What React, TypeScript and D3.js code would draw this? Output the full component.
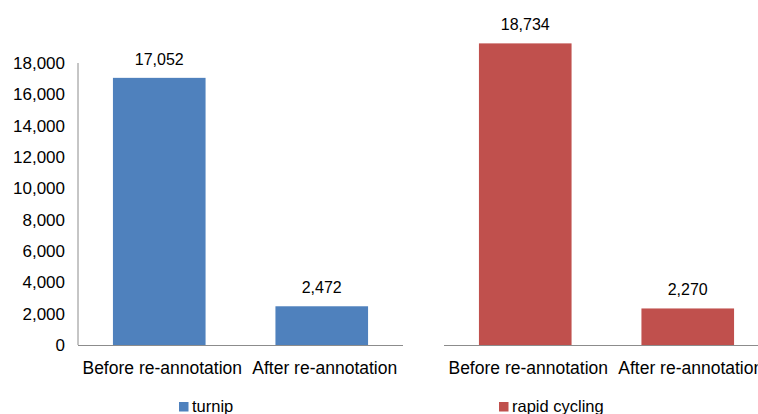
import React from "react";
import * as d3 from "d3";

const categories = ["Before re-annotation", "After re-annotation"];
const turnipValues = [17052, 2472];
const rapidValues = [18734, 2270];
const leftTicks = [0, 2000, 4000, 6000, 8000, 10000, 12000, 14000, 16000, 18000];
const seriesNames = ["turnip", "rapid cycling"];
const seriesColors = ["#4F81BD", "#C0504D"];

const W = 758;
const H = 414;
const FONT = "'Liberation Sans', Arial, Helvetica, sans-serif";
const fmt = d3.format(",");

function Panel({ values, x0, x1, yMax, yTop, color, showAxis }) {
  const baseY = 345;
  const x = d3.scaleBand().domain(categories).range([x0, x1]).paddingInner(0.43).paddingOuter(0.215);
  const y = d3.scaleLinear().domain([0, yMax]).range([baseY, yTop]);
  return (
    <g>
      {showAxis && (
        <g>
          <line x1={x0} x2={x0} y1={y(yMax)} y2={baseY} stroke="#8c8c8c" strokeWidth={1} />
          {leftTicks.map((t) => (
            <text key={t} x={x0 - 13} y={y(t)} dy="0.35em" textAnchor="end" fontSize={17} fontFamily={FONT} fill="#000">
              {fmt(t)}
            </text>
          ))}
        </g>
      )}
      {categories.map((c, i) => (
        <g key={c}>
          <rect x={x(c)} y={y(values[i])} width={x.bandwidth()} height={baseY - y(values[i])} fill={color} />
          <text x={x(c) + x.bandwidth() / 2} y={y(values[i]) - 13} textAnchor="middle" fontSize={16} fontFamily={FONT} fill="#000">
            {fmt(values[i])}
          </text>
          <text x={x(c) + x.bandwidth() / 2 + 3} y={374} textAnchor="middle" fontSize={17.5} fontFamily={FONT} fill="#000">
            {c}
          </text>
        </g>
      ))}
      <line x1={x0} x2={x1} y1={baseY + 0.5} y2={baseY + 0.5} stroke="#8c8c8c" strokeWidth={1} />
    </g>
  );
}

export default function App() {
  return (
    <svg width={W} height={H} style={{ position: "absolute", left: 0, top: 0, background: "#fff" }}>
      <rect width={W} height={H} fill="#fff" />
      <Panel values={turnipValues} x0={78} x1={403} yMax={18000} yTop={63} color={seriesColors[0]} showAxis={true} />
      <Panel values={rapidValues} x0={444} x1={769} yMax={20000} yTop={23} color={seriesColors[1]} showAxis={false} />
      {seriesNames.map((s, i) => {
        const lx = [179, 499][i];
        return (
          <g key={s}>
            <rect x={lx} y={402} width={9.5} height={9.5} fill={seriesColors[i]} />
            <text x={lx + 13} y={412} fontSize={16.5} fontFamily={FONT} fill="#000">{s}</text>
          </g>
        );
      })}
    </svg>
  );
}
